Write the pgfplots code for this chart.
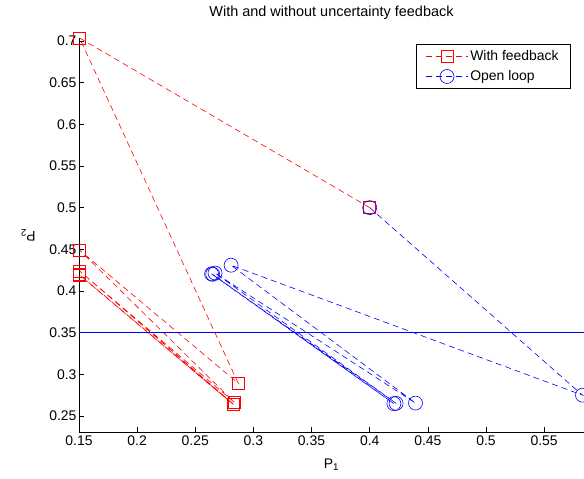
\documentclass[border=0pt]{standalone}
\usepackage{fontspec}
\setmainfont{Liberation Sans}
\usepackage{pgfplots}
\pgfplotsset{compat=1.18}

\pgfplotstableread{
x y
0.4000 0.5000
0.1505 0.7035
0.2869 0.2893
0.1505 0.4490
0.2835 0.2665
0.1505 0.4240
0.2830 0.2640
0.1505 0.4195
0.2830 0.2635
0.1505 0.4190
}\feedback

\pgfplotstableread{
x y
0.4000 0.5000
0.5830 0.2750
0.2808 0.4309
0.4394 0.2655
0.2670 0.4215
0.4227 0.2652
0.2640 0.4205
0.4208 0.2648
0.2650 0.4200
}\openloop

\begin{document}
\begin{tikzpicture}
\begin{axis}[
  scale only axis,
  width=505bp, height=394bp,
  xmin=0.15, xmax=0.5843, ymin=0.2308, ymax=0.7035,
  axis x line*=bottom, axis y line*=left,
  axis line style={black, line width=0.6bp},
  tick align=inside,
  major tick length=5bp,
  tick style={black, line width=0.6bp},
  xtick={0.15,0.2,0.25,0.3,0.35,0.4,0.45,0.5,0.55},
  ytick={0.25,0.3,0.35,0.4,0.45,0.5,0.55,0.6,0.65,0.7},
  xticklabels={0.15,0.2,0.25,0.3,0.35,0.4,0.45,0.5,0.55},
  yticklabels={0.25,0.3,0.35,0.4,0.45,0.5,0.55,0.6,0.65,0.7},
  tick label style={font=\fontsize{14}{16}\selectfont},
  yticklabel style={xshift=1bp},
  title={With and without uncertainty feedback},
  title style={at={(axis description cs:0.5,1.0406)}, anchor=base, font=\fontsize{14.5}{16}\selectfont},
  xlabel={P\textsubscript{1}},
  ylabel={\rotatebox{90}{P\textsubscript{2}}},
  xlabel style={at={(axis description cs:0.5,-0.0914)}, anchor=base, font=\fontsize{14}{16}\selectfont},
  ylabel style={at={(axis description cs:-0.101,0.5)}, anchor=center, font=\fontsize{14}{16}\selectfont},
  legend style={at={(axis description cs:0.974,0.985)}, anchor=north east,
    font=\fontsize{14}{16}\selectfont,
    inner xsep=10bp, inner ysep=4bp, row sep=5bp, cells={anchor=west}},
  legend image code/.code={\draw[mark repeat=2,mark phase=2] plot coordinates {(0bp,0bp)(21bp,0bp)(42bp,0bp)};},
]
\addplot[color=red, line width=0.6bp, dash pattern=on 6bp off 4bp, mark=square, mark size=6bp, mark options={solid}] table {\feedback};
\addlegendentry{With feedback}
\addplot[color=blue, line width=0.6bp, dash pattern=on 6bp off 4bp, mark=o, mark size=7bp, mark options={solid}] table {\openloop};
\addlegendentry{Open loop}
\addplot[blue, line width=0.6bp, forget plot] coordinates {(0.15,0.35) (0.5843,0.35)};
\end{axis}
\pgfresetboundingbox
\path (current axis.south west) ++(-79bp,-47bp) coordinate (bl);
\path (current axis.north east) ++(0bp,38bp) coordinate (tr);
\useasboundingbox (bl) rectangle (tr);
\end{tikzpicture}
\end{document}
